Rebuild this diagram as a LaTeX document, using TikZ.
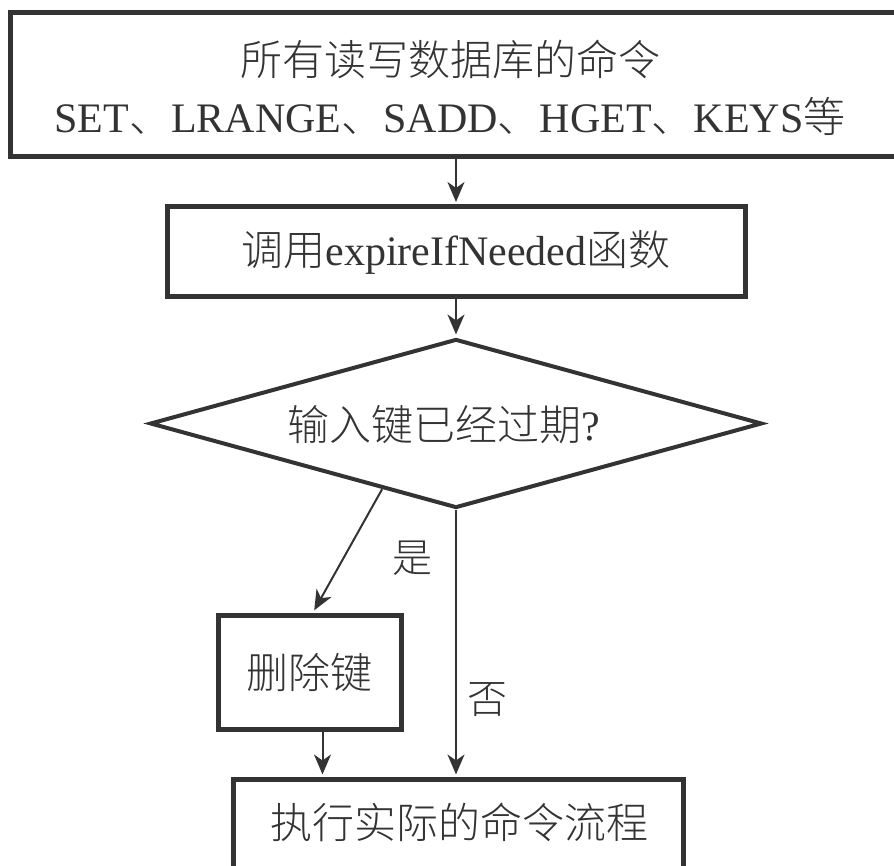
\documentclass[tikz,border=0pt]{standalone}
\usepackage{fontspec}
\setmainfont{Liberation Serif}
\newfontfamily\cjk{Noto Sans CJK SC}[UprightFont=* Light]
\usetikzlibrary{shapes.geometric,arrows.meta,calc}
\definecolor{ink}{HTML}{333333}
\begin{document}
\begin{tikzpicture}[x=1pt,y=-1pt,
  box/.style={draw=ink, line width=5pt, rectangle, inner sep=0pt},
  txt/.style={text=ink, font=\fontsize{42}{57}\selectfont, align=center, inner sep=0pt},
  conn/.style={draw=ink, line width=2pt, shorten >=2.5pt, -{Stealth[length=20pt,width=17pt,inset=6pt]}},
  decision/.style={draw=ink, line width=4pt, diamond, aspect=3.6, minimum width=612pt, minimum height=169pt, inner sep=0pt}]
\useasboundingbox (0,0) rectangle (894,866);
\clip (0,0) rectangle (894,866);
\node[box, minimum width=895pt, minimum height=144pt] (top) at (457.5,85) {};
\node[txt] (toptext) at (450,88) {{\cjk 所有读写数据库的命令}\\SET{\cjk 、}LRANGE{\cjk 、}SADD{\cjk 、}HGET{\cjk 、}KEYS{\cjk 等}};
\node[box, txt, minimum width=578pt, minimum height=90pt] (call) at (456,252) {{\cjk 调用}expireIfNeeded{\cjk 函数}};
\node[decision] (dia) at (456,423.5) {};
\node[txt] (diatext) at (444,425) {{\cjk 输入键已经过期}?};
\node[box, txt, minimum width=183pt, minimum height=114pt] (del) at (309.5,672) {\cjk 删除键};
\node[box, minimum width=450pt, minimum height=140pt, anchor=north] (exec) at (458,777) {};
\node[txt] (exectext) at (459,822) {\cjk 执行实际的命令流程};
\node[txt, font=\fontsize{40}{44}\selectfont] (yes) at (412,558) {\cjk 是};
\node[txt, font=\fontsize{40}{44}\selectfont] (no) at (487,700) {\cjk 否};
\draw[conn] (top.south -| call.north) -- (call.north);
\draw[conn] (call.south) -- (dia.north);
\draw[conn] ($(dia.west)!0.76!(dia.south)$) -- ([xshift=3.5pt]del.north);
\draw[conn] (dia.south) -- (dia.south |- exec.north);
\draw[conn] ([xshift=13pt]del.south) -- ([xshift=13pt]del.south |- exec.north);
\end{tikzpicture}
\end{document}
